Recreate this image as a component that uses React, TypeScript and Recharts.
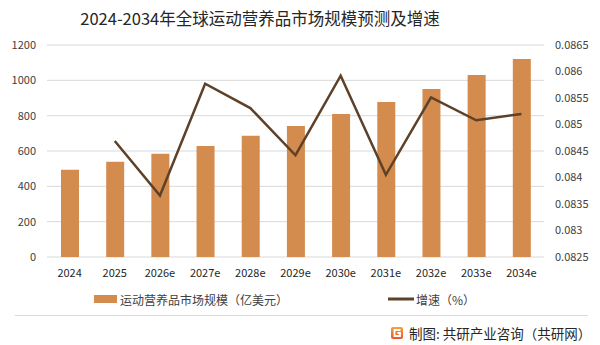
import React from "react";
import {
  ComposedChart,
  Bar,
  Line,
  XAxis,
  YAxis,
  CartesianGrid,
} from "recharts";

const categories = ["2024", "2025", "2026e", "2027e", "2028e", "2029e", "2030e", "2031e", "2032e", "2033e", "2034e"];
const marketSize = [494, 539, 584, 629, 686, 742, 810, 878, 951, 1030, 1121];
const growthRate = [null, 0.08469, 0.08366, 0.08577, 0.08531, 0.08442, 0.08592, 0.08405, 0.08551, 0.08508, 0.0852];
const leftTicks = [0, 200, 400, 600, 800, 1000, 1200];
const rightTicks = [0.0825, 0.083, 0.0835, 0.084, 0.0845, 0.085, 0.0855, 0.086, 0.0865];

const title = "2024-2034年全球运动营养品市场规模预测及增速";
const barName = "运动营养品市场规模（亿美元）";
const lineName = "增速（%）";
const credit = "制图: 共研产业咨询（共研网）";

const data = categories.map((c, i) => ({
  name: c,
  size: marketSize[i],
  rate: growthRate[i],
}));

const FONT = '"Noto Sans CJK SC", "Noto Sans", sans-serif';
const BAR_COLOR = "#D38B4E";
const LINE_COLOR = "#5E4128";

export default function App() {
  return (
    <div
      style={{
        position: "absolute",
        left: 0,
        top: 0,
        width: 600,
        height: 345,
        background: "#fff",
        fontFamily: FONT,
        overflow: "hidden",
      }}
    >
      <div
        style={{
          position: "absolute",
          left: 0,
          width: 520,
          top: 6,
          textAlign: "center",
          fontSize: 16.5,
          color: "#262626",
          lineHeight: "24px",
        }}
      >
        {title}
      </div>
      <ComposedChart
        width={600}
        height={345}
        data={data}
        margin={{ top: 45, right: 6, bottom: 58, left: 7 }}
        barCategoryGap="30%"
        style={{ position: "absolute", left: 0, top: 0 }}
      >
        <CartesianGrid yAxisId="left" vertical={false} stroke="#d9d9d9" strokeWidth={1} />
        <XAxis
          dataKey="name"
          axisLine={false}
          tickLine={false}
          tickMargin={6}
          height={30}
          interval={0}
          tick={{ fill: "#262626", fontSize: 11, fontFamily: FONT }}
        />
        <YAxis
          yAxisId="left"
          width={40}
          domain={[0, 1200]}
          ticks={leftTicks}
          axisLine={false}
          tickLine={false}
          tickMargin={5}
          tick={{ fill: "#404040", fontSize: 11, fontFamily: FONT }}
        />
        <YAxis
          yAxisId="right"
          orientation="right"
          width={50}
          domain={[0.0825, 0.0865]}
          ticks={rightTicks}
          axisLine={false}
          tickLine={false}
          tickMargin={5}
          tickFormatter={(v: number) => String(parseFloat(v.toFixed(4)))}
          tick={{ fill: "#404040", fontSize: 11, fontFamily: FONT, textAnchor: "start" }}
        />
        <Bar
          yAxisId="left"
          dataKey="size"
          fill={BAR_COLOR}
          barSize={18}
          isAnimationActive={false}
        />
        <Line
          yAxisId="right"
          dataKey="rate"
          stroke={LINE_COLOR}
          strokeWidth={2.5}
          dot={false}
          activeDot={false}
          type="linear"
          connectNulls={false}
          isAnimationActive={false}
        />
      </ComposedChart>

      {/* legend */}
      <div
        style={{
          position: "absolute",
          left: 94,
          top: 290,
          height: 18,
          display: "flex",
          alignItems: "center",
          fontSize: 12,
          color: "#404040",
          whiteSpace: "nowrap",
        }}
      >
        <svg width={23} height={8} style={{ marginRight: 3 }}>
          <rect x={0} y={0} width={23} height={8} fill={BAR_COLOR} />
        </svg>
        <span>{barName}</span>
      </div>
      <div
        style={{
          position: "absolute",
          left: 388,
          top: 290,
          height: 18,
          display: "flex",
          alignItems: "center",
          fontSize: 12,
          color: "#404040",
          whiteSpace: "nowrap",
        }}
      >
        <svg width={26} height={4} style={{ marginRight: 2 }}>
          <rect x={0} y={0.5} width={26} height={3} fill={LINE_COLOR} />
        </svg>
        <span>{lineName}</span>
      </div>

      {/* footer separator */}
      <div
        style={{
          position: "absolute",
          left: 15,
          top: 315,
          width: 573,
          height: 1,
          background: "#d9d9d9",
        }}
      />
      <div
        style={{
          position: "absolute",
          left: 391,
          top: 324,
          height: 18,
          display: "flex",
          alignItems: "center",
          fontSize: 13.5,
          color: "#262626",
          whiteSpace: "nowrap",
        }}
      >
        <svg width={12} height={12} style={{ marginRight: 6 }}>
          <defs>
            <linearGradient id="lg" x1="0" y1="0" x2="0" y2="1">
              <stop offset="0" stopColor="#F7A33A" />
              <stop offset="1" stopColor="#E8542A" />
            </linearGradient>
          </defs>
          <rect x={0} y={0} width={12} height={12} rx={2} fill="url(#lg)" />
          <path d="M9.5 3 H3.5 V9 H9 V6 H6.5" stroke="#fff" strokeWidth={1.8} fill="none" />
        </svg>
        <span>{credit}</span>
      </div>
    </div>
  );
}
